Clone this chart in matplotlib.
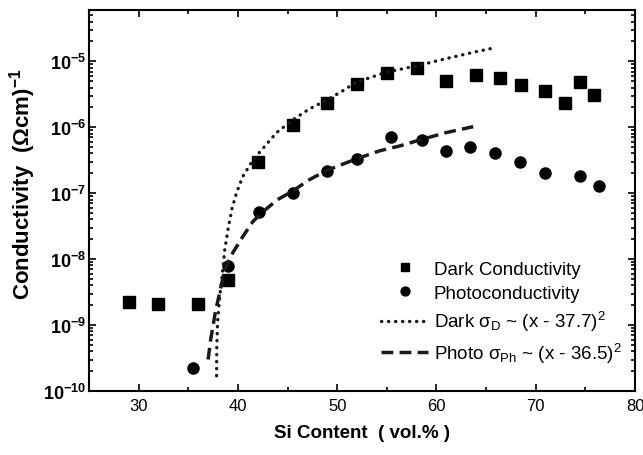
import matplotlib
matplotlib.use('Agg')
import matplotlib.pyplot as plt
from matplotlib.ticker import FixedLocator, FuncFormatter, NullFormatter
import numpy as np

plt.rcParams['font.family'] = ['Liberation Sans', 'DejaVu Sans']
plt.rcParams['mathtext.fontset'] = 'custom'
plt.rcParams['mathtext.rm'] = 'Liberation Sans'
plt.rcParams['mathtext.it'] = 'Liberation Sans:italic'
plt.rcParams['mathtext.bf'] = 'Liberation Sans:bold'

# measured points
dark_x = [29, 32, 36, 39, 42, 45.5, 49, 52, 55, 58, 61, 64, 66.4, 68.5, 70.9, 72.9, 74.5, 75.9]
dark_y = [2.2e-9, 2.1e-9, 2.05e-9, 4.9e-9, 3.0e-7, 1.1e-6, 2.3e-6, 4.5e-6, 6.6e-6, 8.0e-6,
          5.1e-6, 6.3e-6, 5.5e-6, 4.3e-6, 3.6e-6, 2.3e-6, 4.9e-6, 3.1e-6]

photo_x = [35.5, 39, 42.1, 45.5, 49, 52, 55.4, 58.5, 61, 63.4, 65.9, 68.4, 70.9, 74.5, 76.4]
photo_y = [2.2e-10, 7.9e-9, 5.1e-8, 1.0e-7, 2.2e-7, 3.3e-7, 7.1e-7, 6.4e-7, 4.4e-7, 5.1e-7,
           4.0e-7, 3.0e-7, 2.0e-7, 1.8e-7, 1.3e-7]

# fit curves
fit_dark_x = [37.85, 37.87, 37.95, 38.18, 38.41, 38.68, 39.0, 39.4, 39.85, 40.5, 41.35, 42.2,
              43.9, 45.55, 47.2, 49.0, 50.6, 51.9, 54.9, 57.95, 61.0, 64.0, 65.85]
fit_dark_y = [1.7e-10, 4.4e-10, 1.1e-9, 2.8e-9, 5.6e-9, 1.4e-8, 2.8e-8, 5.8e-8, 1.0e-7, 1.8e-7,
              2.9e-7, 4.2e-7, 8.3e-7, 1.3e-6, 1.9e-6, 2.6e-6, 3.6e-6, 4.8e-6, 6.8e-6, 8.5e-6,
              1.1e-5, 1.4e-5, 1.6e-5]

fit_photo_x = [37.0, 37.27, 37.74, 38.18, 38.68, 39.5, 40.5, 41.5, 42.5, 44.0, 45.4, 47.2,
               48.9, 51.9, 54.3, 56.3, 58.6, 61.0, 63.7]
fit_photo_y = [3.0e-10, 6.2e-10, 1.6e-9, 3.2e-9, 7.0e-9, 1.26e-8, 2.2e-8, 3.7e-8, 5.2e-8, 8.0e-8,
               1.05e-7, 1.6e-7, 2.2e-7, 3.3e-7, 4.4e-7, 5.2e-7, 6.6e-7, 8.3e-7, 1.02e-6]

x_ticks = [30, 40, 50, 60, 70, 80]
y_exps = [-10, -9, -8, -7, -6, -5]

fig = plt.figure(figsize=(6.43, 4.56), dpi=100)
ax = fig.add_axes([0.1384, 0.1404, 0.8492, 0.8355])

ax.plot(dark_x, dark_y, 's', color='black', ms=8, label='Dark Conductivity')
ax.plot(photo_x, photo_y, 'o', color='black', ms=8, label='Photoconductivity')
ax.plot(fit_dark_x, fit_dark_y, color='#1a1a1a', lw=2.4, linestyle=(0, (0.1, 2.0)),
        dash_capstyle='round', label=r'Dark $\mathrm{\sigma_{D}}$ ~ (x - 37.7)$^{\mathrm{2}}$')
ax.plot(fit_photo_x, fit_photo_y, color='#1a1a1a', lw=2.5, linestyle=(0, (3.4, 1.8)),
        label=r'Photo $\mathrm{\sigma_{Ph}}$ ~ (x - 36.5)$^{\mathrm{2}}$')

ax.set_yscale('log')
ax.set_xlim(25, 80)
ax.set_ylim(1e-10, 6e-5)

ax.xaxis.set_major_locator(FixedLocator(x_ticks))
ax.xaxis.set_minor_locator(FixedLocator([35, 45, 55, 65, 75]))
y_major = [10.0 ** e for e in y_exps]
y_minor = [m * 10.0 ** e for e in y_exps for m in range(2, 10) if m * 10.0 ** e < 6e-5]
ax.yaxis.set_major_locator(FixedLocator(y_major))
ax.yaxis.set_minor_locator(FixedLocator(y_minor))
ax.yaxis.set_minor_formatter(NullFormatter())
ax.yaxis.set_major_formatter(FuncFormatter(lambda v, p: r'$\mathbf{10^{%d}}$' % round(np.log10(v))))

ax.tick_params(which='both', direction='in', top=True, right=True, width=1.2)
ax.tick_params(which='major', length=5)
ax.tick_params(which='minor', length=3)
ax.tick_params(axis='x', labelsize=12, pad=5)
ax.tick_params(axis='y', labelsize=13, pad=2)
for s in ax.spines.values():
    s.set_linewidth(1.5)

ax.set_xlabel('Si Content  ( vol.% )', fontsize=13.5, fontweight='bold', labelpad=8)
ax.set_ylabel(r'Conductivity  ($\mathbf{\Omega}$cm)$^{\mathbf{-1}}$', fontsize=16, fontweight='bold')
ax.yaxis.set_label_coords(-0.093, 0.546)

ax.legend(loc='upper left', bbox_to_anchor=(0.535, 0.342), frameon=False, fontsize=13.5,
          numpoints=1, handlelength=2.5, handletextpad=0.3, labelspacing=0.38,
          borderpad=0, borderaxespad=0, markerscale=0.8)

plt.savefig('out.png', dpi=100)
plt.close()
